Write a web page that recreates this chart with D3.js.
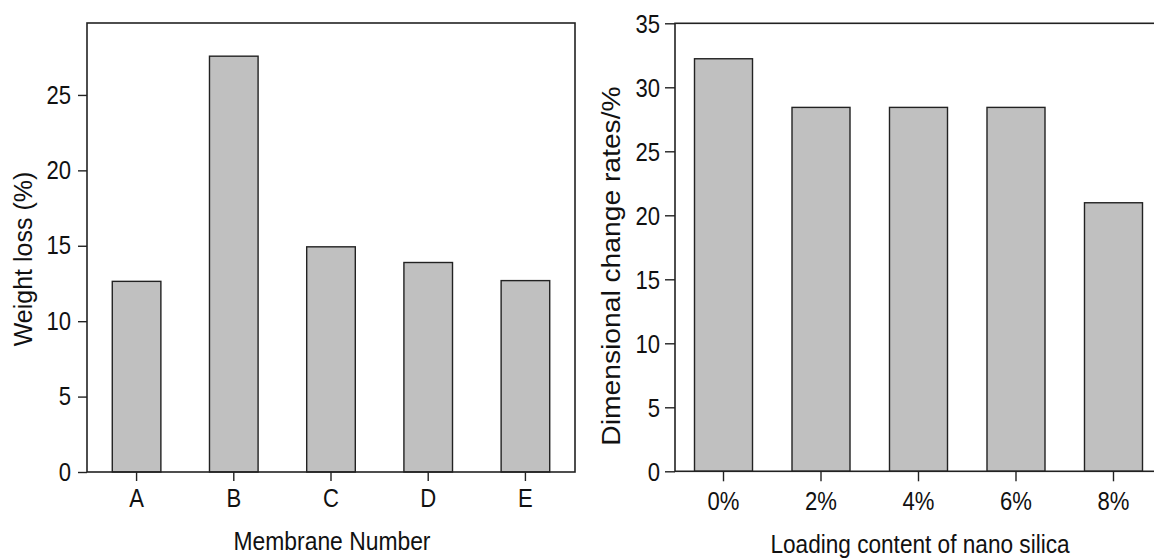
<!DOCTYPE html>
<html>
<head>
<meta charset="utf-8">
<script src="https://cdn.jsdelivr.net/npm/d3@7/dist/d3.min.js"></script>
<style>
  html, body { margin: 0; padding: 0; background: #fff; }
  svg { display: block; }
  text { font-family: "Liberation Sans", Arial, sans-serif; fill: #111; }
</style>
</head>
<body>
<svg id="chart" width="1154" height="559"></svg>
<script>
// ---- data ----
const membranes = ["A", "B", "C", "D", "E"];
const weightLoss = [12.64, 27.57, 14.93, 13.89, 12.69];
const weightTicks = [0, 5, 10, 15, 20, 25];

const silicaLoading = ["0%", "2%", "4%", "6%", "8%"];
const dimensionalChange = [32.23, 28.43, 28.43, 28.43, 20.98];
const dimensionalTicks = [0, 5, 10, 15, 20, 25, 30, 35];

const svg = d3.select("#chart");
const LINE = "#222";
const BAR = "#c0c0c0";

function styleAxis(g) {
  g.select(".domain").remove();
  g.selectAll(".tick line").attr("stroke", LINE).attr("stroke-width", 1.4);
  g.selectAll(".tick text").attr("font-size", 26).attr("fill", "#111");
}

// ================= LEFT PANEL =================
{
  const x = d3.scaleBand().domain(membranes).range([87, 575]).paddingInner(0.5).paddingOuter(0.26);
  const y = d3.scaleLinear().domain([0, 29.77]).range([472, 23]);

  svg.append("g").selectAll("rect").data(membranes).join("rect")
    .attr("x", d => x(d))
    .attr("y", (d, i) => y(weightLoss[i]))
    .attr("width", x.bandwidth())
    .attr("height", (d, i) => y(0) - y(weightLoss[i]))
    .attr("fill", BAR).attr("stroke", LINE).attr("stroke-width", 1.4);

  svg.append("rect").attr("x", 87).attr("y", 23).attr("width", 575 - 87).attr("height", 472 - 23)
    .attr("fill", "none").attr("stroke", LINE).attr("stroke-width", 1.6);

  const ya = svg.append("g").attr("transform", "translate(87,0)")
    .call(d3.axisLeft(y).tickValues(weightTicks).tickSize(9).tickFormat(d3.format("d")));
  styleAxis(ya);
  ya.selectAll(".tick text").attr("x", null).attr("dy", "0.31em")
    .attr("transform", "translate(-16,0) scale(0.85,1)");

  const xa = svg.append("g").attr("transform", "translate(0,472)")
    .call(d3.axisBottom(x).tickSize(9));
  styleAxis(xa);
  xa.selectAll(".tick text").attr("y", null).attr("dy", null)
    .attr("transform", "translate(0,35) scale(0.85,1)");

  svg.append("text").attr("text-anchor", "middle").attr("font-size", 26)
    .attr("transform", "translate(332,550) scale(0.88,1)")
    .text("Membrane Number");
  svg.append("text").attr("text-anchor", "middle").attr("font-size", 25)
    .attr("transform", "translate(32,259) rotate(-90)")
    .text("Weight loss (%)");
}

// ================= RIGHT PANEL =================
{
  const x = d3.scaleBand().domain(silicaLoading).range([675, 1162]).paddingInner(0.405).paddingOuter(0.2);
  const y = d3.scaleLinear().domain([0, 35]).range([471.3, 23.3]);

  svg.append("g").selectAll("rect").data(silicaLoading).join("rect")
    .attr("x", d => x(d))
    .attr("y", (d, i) => y(dimensionalChange[i]))
    .attr("width", x.bandwidth())
    .attr("height", (d, i) => y(0) - y(dimensionalChange[i]))
    .attr("fill", BAR).attr("stroke", LINE).attr("stroke-width", 1.4);

  svg.append("rect").attr("x", 675).attr("y", 23.3).attr("width", 1162 - 675).attr("height", 471.3 - 23.3)
    .attr("fill", "none").attr("stroke", LINE).attr("stroke-width", 1.6);

  const ya = svg.append("g").attr("transform", "translate(675,0)")
    .call(d3.axisLeft(y).tickValues(dimensionalTicks).tickSize(10).tickFormat(d3.format("d")));
  styleAxis(ya);
  ya.selectAll(".tick text").attr("x", null).attr("dy", "0.35em")
    .attr("transform", "translate(-15,0) scale(0.85,1)");

  const xa = svg.append("g").attr("transform", "translate(0,471.3)")
    .call(d3.axisBottom(x).tickSize(10));
  styleAxis(xa);
  xa.selectAll(".tick text").attr("y", null).attr("dy", null)
    .attr("transform", "translate(0,38.7) scale(0.85,1)");

  svg.append("text").attr("text-anchor", "middle").attr("font-size", 26)
    .attr("transform", "translate(920,553) scale(0.87,1)")
    .text("Loading content of nano silica");
  svg.append("text").attr("text-anchor", "middle").attr("font-size", 25)
    .attr("transform", "translate(620,266) rotate(-90) scale(1.13,1)")
    .text("Dimensional change rates/%");
}
</script>
</body>
</html>
